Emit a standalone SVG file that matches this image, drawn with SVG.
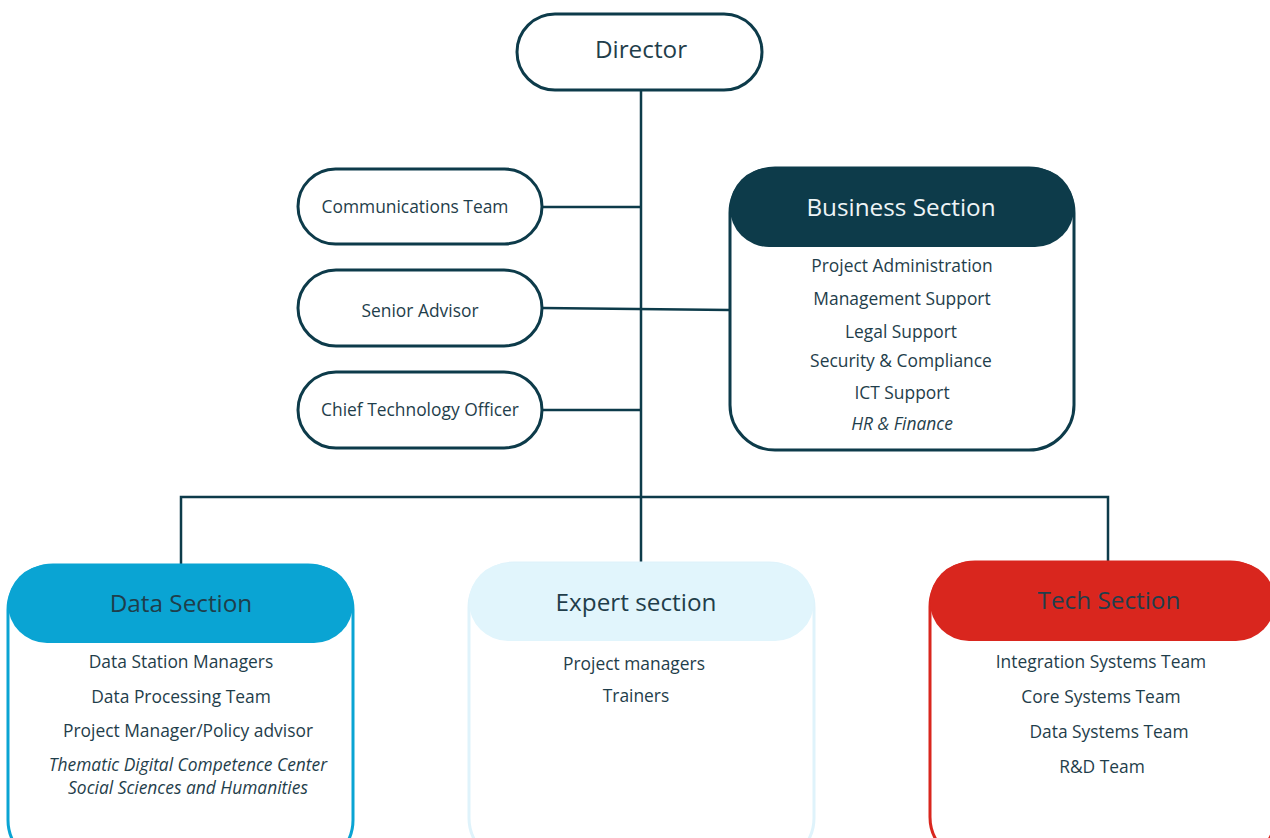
<svg xmlns="http://www.w3.org/2000/svg" width="1270" height="838" viewBox="0 0 1270 838">
<style>
text{font-family:"Open Sans","Noto Sans","Liberation Sans",sans-serif;fill:#1f3e4b;text-anchor:middle}
.pill{fill:#fff;stroke:#0d3b4a;stroke-width:3}
.lbl{font-size:17.4px}
.ttl{font-size:24.3px}
.it{font-style:italic}
.con{fill:none;stroke:#0d3b4a;stroke-width:2.5}
</style>
<rect width="1270" height="838" fill="#fff"/>
<g id="connectors">
<path class="con" d="M641 90 V563"/>
<path class="con" d="M181 565 V497 H1108 V562"/>
<path class="con" d="M542 207 H641"/>
<path class="con" d="M542 308 L730 310"/>
<path class="con" d="M542 410 H641"/>
</g>
<g id="director">
<rect class="pill" x="517" y="14" width="245" height="76" rx="38"/>
<text class="ttl" x="641" y="58">Director</text>
</g>
<g id="communications">
<rect class="pill" x="298" y="169" width="244" height="75" rx="37.5"/>
<text class="lbl" x="415" y="213">Communications Team</text>
</g>
<g id="senior-advisor">
<rect class="pill" x="298" y="270" width="244" height="76" rx="38"/>
<text class="lbl" x="420" y="317">Senior Advisor</text>
</g>
<g id="cto">
<rect class="pill" x="298" y="372" width="244" height="76" rx="38"/>
<text class="lbl" x="420" y="416">Chief Technology Officer</text>
</g>
<g id="business">
<rect x="730" y="168" width="344" height="282" rx="45" fill="#fff" stroke="#0d3b4a" stroke-width="3"/>
<rect x="730" y="168" width="344" height="79" rx="39" fill="#0d3b4a"/>
<text class="ttl" x="901" y="216" style="fill:#eef4f6">Business Section</text>
<text class="lbl" x="902" y="272">Project Administration</text>
<text class="lbl" x="902" y="305">Management Support</text>
<text class="lbl" x="901" y="338">Legal Support</text>
<text class="lbl" x="901" y="367">Security &amp; Compliance</text>
<text class="lbl" x="902" y="399">ICT Support</text>
<text class="lbl it" x="902" y="430">HR &amp; Finance</text>
</g>
<g id="data">
<rect x="8" y="565" width="345" height="300" rx="45" fill="#fff" stroke="#0aa4d3" stroke-width="3"/>
<rect x="8" y="565" width="345" height="78" rx="39" fill="#0aa4d3"/>
<text class="ttl" x="181" y="612">Data Section</text>
<text class="lbl" x="181" y="668">Data Station Managers</text>
<text class="lbl" x="181" y="703">Data Processing Team</text>
<text class="lbl" x="188" y="737">Project Manager/Policy advisor</text>
<text class="lbl it" x="188" y="771">Thematic Digital Competence Center</text>
<text class="lbl it" x="188" y="794">Social Sciences and Humanities</text>
</g>
<g id="expert">
<rect x="469" y="563" width="345" height="300" rx="45" fill="#fff" stroke="#dff3fb" stroke-width="3"/>
<rect x="469" y="563" width="345" height="78" rx="39" fill="#e1f5fc"/>
<text class="ttl" x="636" y="611">Expert section</text>
<text class="lbl" x="634" y="670">Project managers</text>
<text class="lbl" x="636" y="702">Trainers</text>
</g>
<g id="tech">
<rect x="930" y="562" width="345" height="300" rx="45" fill="#fff" stroke="#d9261e" stroke-width="3"/>
<rect x="930" y="562" width="345" height="79" rx="39" fill="#d9261e"/>
<text class="ttl" x="1109" y="609">Tech Section</text>
<text class="lbl" x="1101" y="668">Integration Systems Team</text>
<text class="lbl" x="1101" y="703">Core Systems Team</text>
<text class="lbl" x="1109" y="738">Data Systems Team</text>
<text class="lbl" x="1102" y="773">R&amp;D Team</text>
</g>
</svg>
